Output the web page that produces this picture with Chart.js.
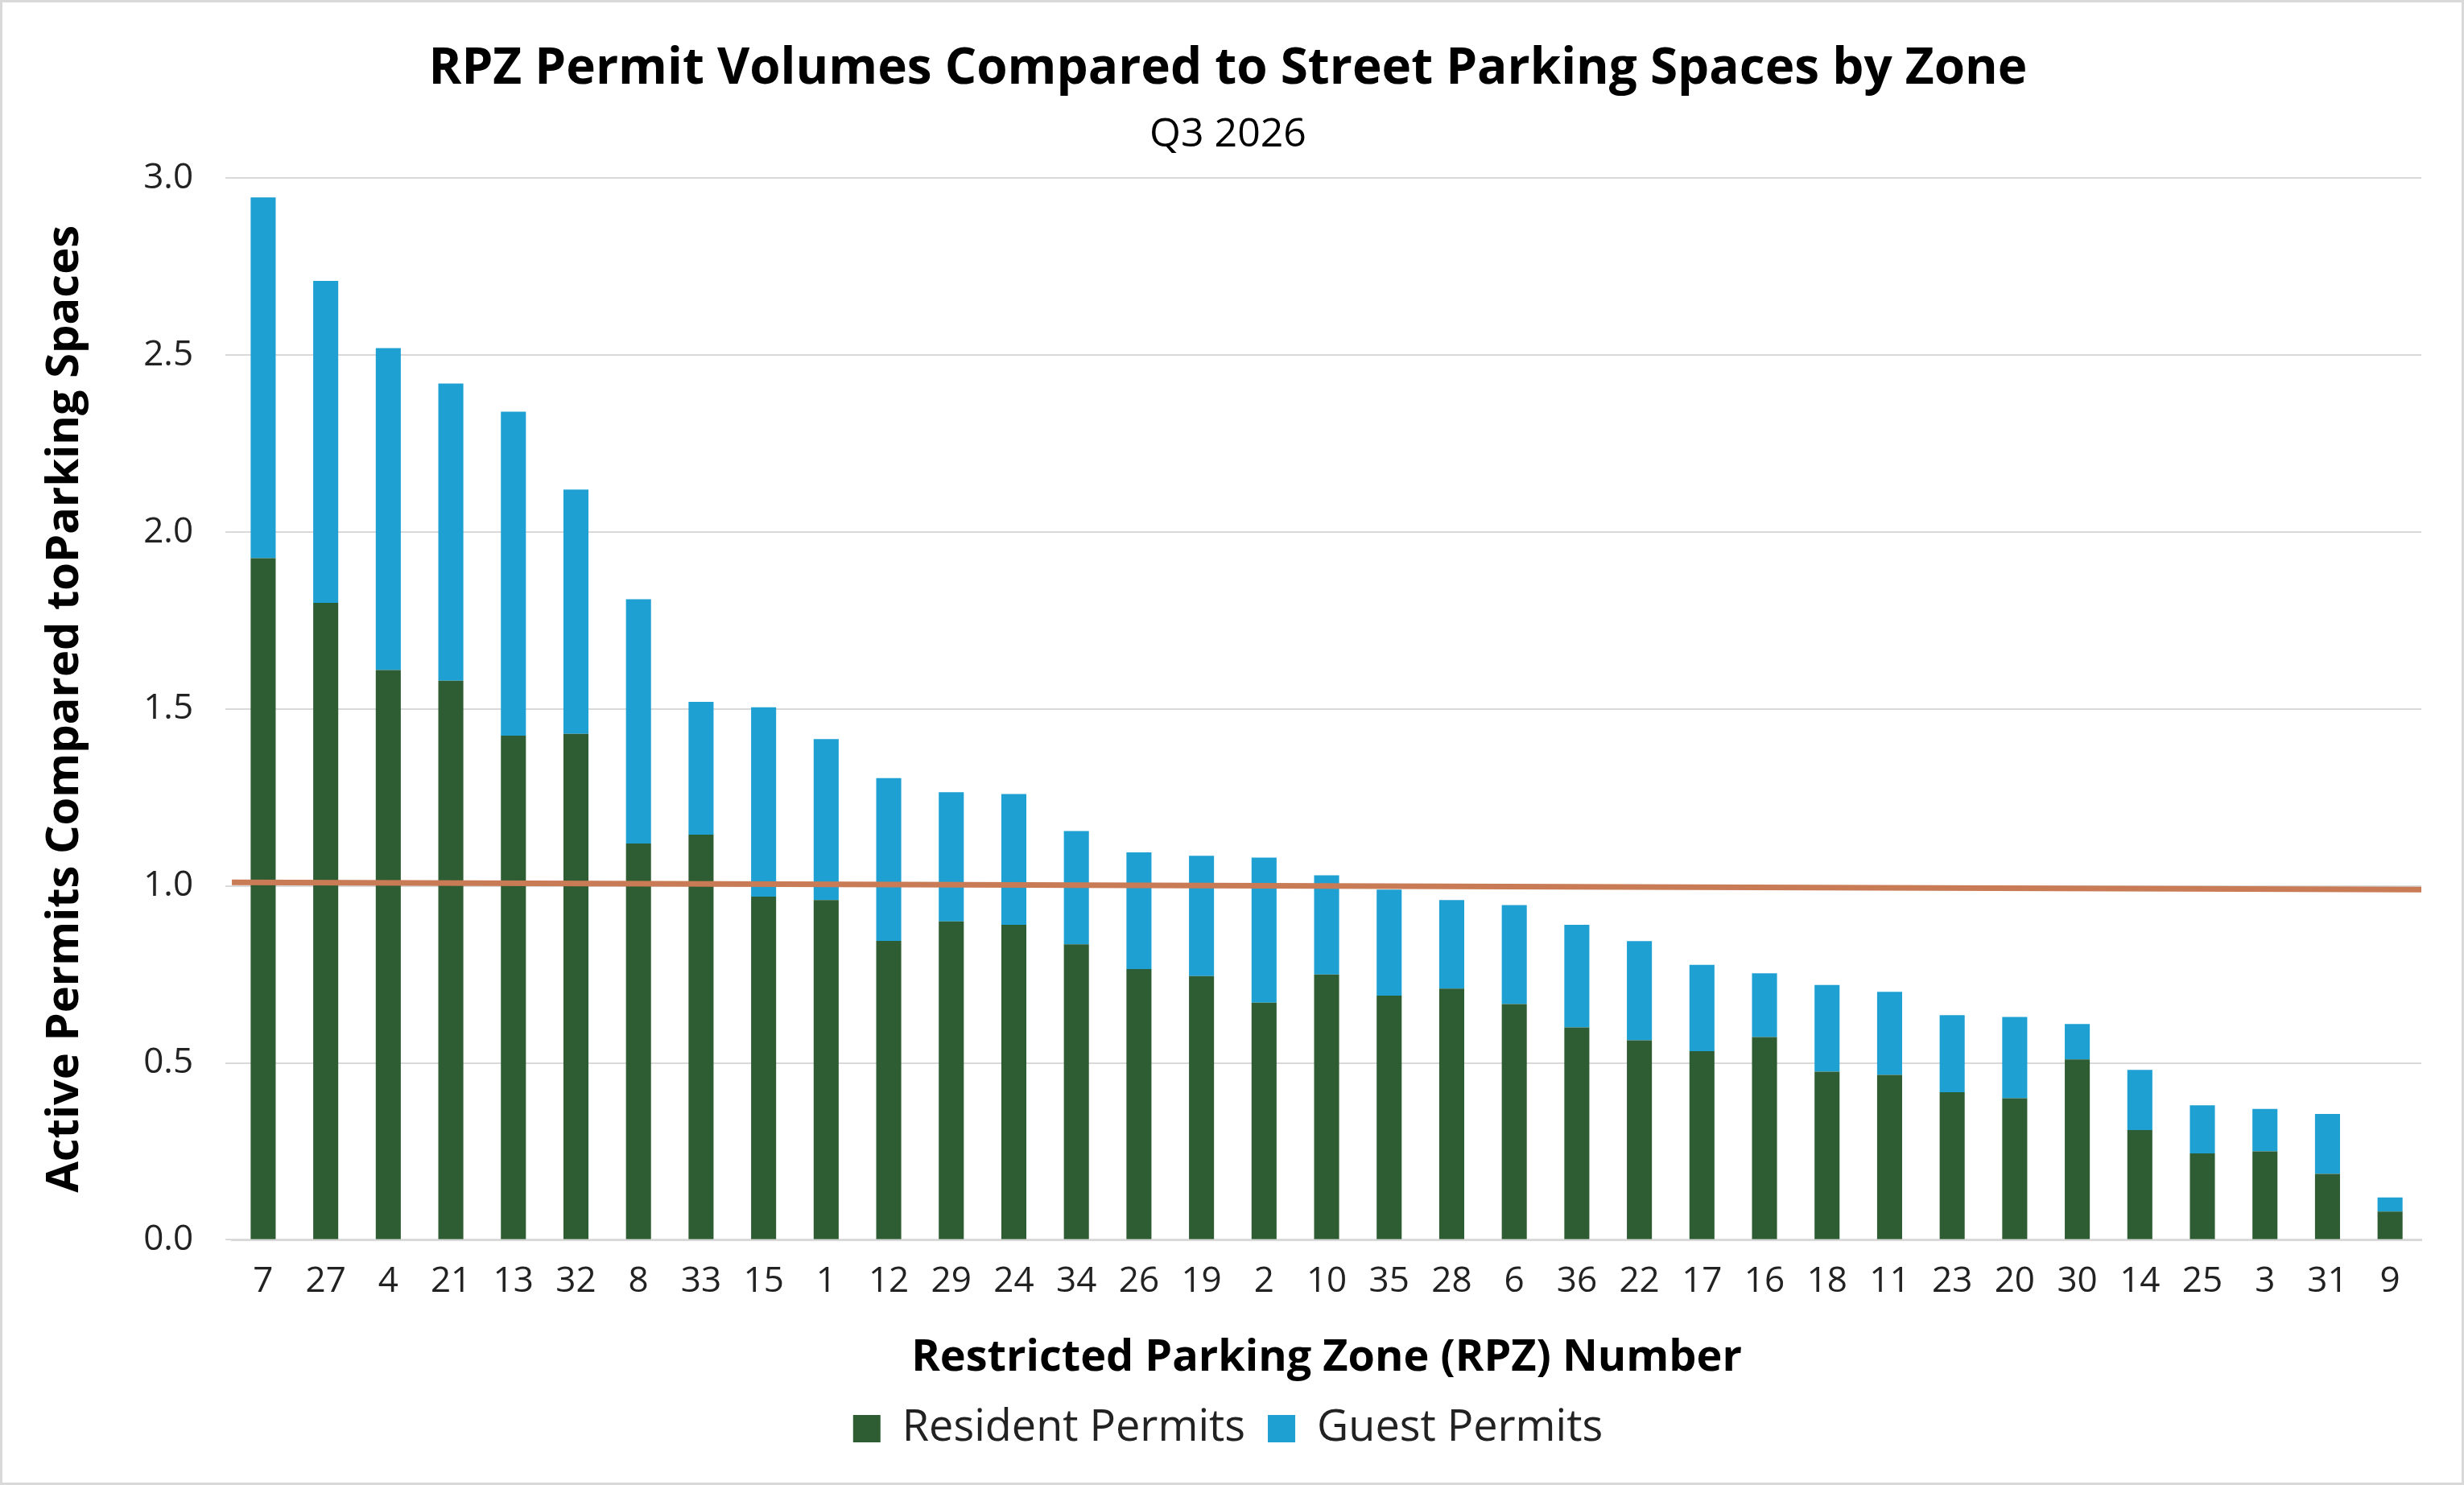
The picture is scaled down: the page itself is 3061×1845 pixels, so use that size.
<!DOCTYPE html>
<html><head><meta charset="utf-8">
<script src="https://cdn.jsdelivr.net/npm/chart.js@4"></script>
<style>html,body{margin:0;padding:0;background:#fff}#wrap{width:3061px;height:1845px;box-sizing:border-box;border:3px solid #d9d9d9}</style>
</head><body><div id="wrap"><canvas id="c" width="3055" height="1839"></canvas></div>
<script>
const zones=['7','27','4','21','13','32','8','33','15','1','12','29','24','34','26','19','2','10','35','28','6','36','22','17','16','18','11','23','20','30','14','25','3','31','9'];
const resident=[1.926,1.80,1.61,1.58,1.425,1.43,1.12,1.145,0.97,0.96,0.845,0.90,0.89,0.835,0.765,0.745,0.67,0.75,0.69,0.71,0.666,0.60,0.564,0.533,0.573,0.475,0.466,0.417,0.40,0.51,0.31,0.244,0.25,0.186,0.08];
const guest=[1.02,0.91,0.91,0.84,0.915,0.69,0.69,0.375,0.535,0.455,0.46,0.365,0.37,0.32,0.33,0.34,0.41,0.28,0.30,0.25,0.28,0.29,0.28,0.244,0.18,0.245,0.235,0.218,0.23,0.10,0.17,0.136,0.12,0.17,0.04];
const yTicks=[0,0.5,1.0,1.5,2.0,2.5,3.0];
const refLine={start:1.01,end:0.99};
const F='"Open Sans", sans-serif';
const refPlugin={id:'ref',afterDatasetsDraw(ch){const {ctx,chartArea:a,scales:{y}}=ch;ctx.save();ctx.strokeStyle='#c97b55';ctx.lineWidth=7;ctx.beginPath();ctx.moveTo(a.left,y.getPixelForValue(refLine.start));ctx.lineTo(a.right,y.getPixelForValue(refLine.end));ctx.stroke();ctx.restore();}};
new Chart(document.getElementById('c'),{type:'bar',
data:{labels:zones,datasets:[
{label:'Resident Permits',data:resident,backgroundColor:'#2f5d33',barPercentage:0.4,categoryPercentage:1},
{label:'Guest Permits',data:guest,backgroundColor:'#1fa0d3',barPercentage:0.4,categoryPercentage:1}]},
options:{responsive:false,animation:false,devicePixelRatio:1,
layout:{padding:{left:40,right:50,top:36,bottom:30}},
plugins:{
title:{display:true,text:'RPZ Permit Volumes Compared to Street Parking Spaces by Zone',font:{family:F,size:62,weight:'bold'},color:'#000',padding:{top:10,bottom:14}},
subtitle:{display:true,text:'Q3 2026',font:{family:F,size:50},color:'#000',padding:{bottom:24}},
legend:{position:'bottom',labels:{font:{family:F,size:54},color:'#222',boxWidth:34,boxHeight:34,padding:28}},
tooltip:{enabled:false}},
scales:{
x:{stacked:true,grid:{display:false},border:{color:'#d9d9d9',width:3},ticks:{font:{family:F,size:44},color:'#222',padding:18,maxRotation:0,autoSkip:false},
title:{display:true,text:'Restricted Parking Zone (RPZ) Number',font:{family:F,size:54,weight:'bold'},color:'#000',padding:{top:18,bottom:0}}},
y:{stacked:true,min:0,max:3,afterBuildTicks(ax){ax.ticks=yTicks.map(v=>({value:v}));},
grid:{color:'#d9d9d9',lineWidth:2},border:{display:false},
ticks:{font:{family:F,size:44},color:'#222',padding:40,callback:v=>v.toFixed(1)},
title:{display:true,text:'Active Permits Compared toParking Spaces',font:{family:F,size:56,weight:'bold'},color:'#000',padding:{bottom:24}}}}},
plugins:[refPlugin]});
</script></body></html>
